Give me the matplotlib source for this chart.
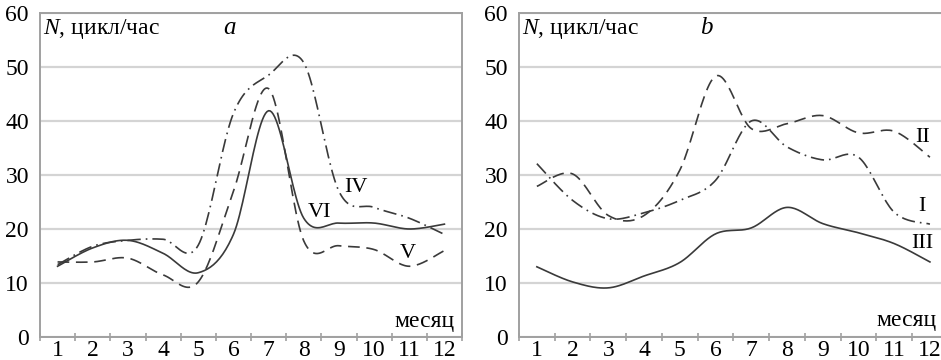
import numpy as np
import matplotlib.pyplot as plt
from matplotlib.ticker import MultipleLocator

plt.rcParams['font.family'] = ['Liberation Serif', 'DejaVu Serif']
plt.rcParams['mathtext.fontset'] = 'custom'
plt.rcParams['mathtext.rm'] = 'Liberation Serif'
plt.rcParams['mathtext.it'] = 'Liberation Serif:italic'

months = np.arange(1, 13)
month_labels = [str(m) for m in months]

# panel a
curve_iv = [13.4, 16.8, 17.9, 18.1, 17.0, 41.4, 48.5, 50.8, 27.0, 24.0, 22.0, 19.0]
curve_v = [13.9, 13.9, 14.6, 11.5, 10.2, 27.0, 46.0, 17.8, 16.9, 16.2, 13.1, 16.0]
curve_vi = [13.1, 16.5, 17.9, 15.5, 11.9, 19.0, 41.9, 22.0, 21.1, 21.1, 20.0, 20.9]

# panel b
curve_i = [32.1, 25.3, 21.9, 23.0, 25.3, 29.0, 40.0, 35.2, 32.8, 33.3, 23.1, 20.9]
curve_ii = [27.9, 30.2, 22.5, 22.5, 30.9, 48.3, 38.6, 39.5, 41.0, 37.8, 38.1, 33.3]
curve_iii = [13.0, 10.2, 9.1, 11.3, 13.8, 19.1, 20.2, 24.0, 21.0, 19.3, 17.3, 13.9]


def smooth(x, y, n=24):
    # excel-like smoothed line (catmull-rom through the points)
    x = np.asarray(x, float)
    y = np.asarray(y, float)
    px = np.concatenate([[x[0]], x, [x[-1]]])
    py = np.concatenate([[y[0]], y, [y[-1]]])
    xs, ys = [], []
    t = np.linspace(0, 1, n)
    for i in range(1, len(px) - 2):
        for p, out in ((px, xs), (py, ys)):
            p0, p1, p2, p3 = p[i - 1], p[i], p[i + 1], p[i + 2]
            c1 = p1 + (p2 - p0) / 6
            c2 = p2 - (p3 - p1) / 6
            out.extend((1 - t)**3 * p1 + 3 * (1 - t)**2 * t * c1
                       + 3 * (1 - t) * t**2 * c2 + t**3 * p2)
    return np.array(xs), np.array(ys)


dash = (0, (7, 4))
dashdot = (0, (8, 3, 1, 3))
solid = '-'

fig = plt.figure(figsize=(9.41, 3.6), dpi=100)
ax_a = fig.add_axes([40 / 941, 23 / 360, 422 / 941, 324 / 360])
ax_b = fig.add_axes([519 / 941, 23 / 360, 422 / 941, 324 / 360])

grid_c = '#d4d4d4'
spine_c = '#a0a0a0'
fs = 17

for ax, xmax in ((ax_a, 12.5), (ax_b, 12.31)):
    ax.set_xlim(0.5, xmax)
    ax.set_ylim(0, 60)
    ax.set_yticks(range(0, 61, 10))
    ax.set_xticks(months)
    ax.set_xticklabels(month_labels)
    ax.xaxis.set_minor_locator(MultipleLocator(1, offset=0.5))
    ax.tick_params(axis='both', which='major', length=0, labelsize=fs)
    ax.tick_params(axis='x', which='major', pad=2)
    ax.tick_params(axis='y', which='major', pad=8)
    ax.tick_params(axis='x', which='minor', direction='inout', length=6,
                   width=1.2, color=spine_c)
    ax.grid(axis='y', color=grid_c, lw=1.6)
    ax.set_axisbelow(True)
    for s in ax.spines.values():
        s.set_color(spine_c)
        s.set_linewidth(1.4)
    ax.text(0.58, 57.0, '$N$, цикл/час', fontsize=fs, va='center', ha='left')

ax_b.spines['right'].set_visible(False)

line_c = '#3a3a3a'
for y, ls in ((curve_iv, dashdot), (curve_v, dash), (curve_vi, solid)):
    sx, sy = smooth(months, y)
    ax_a.plot(sx, sy, color=line_c, lw=1.2, ls=ls)
for y, ls in ((curve_i, dashdot), (curve_ii, dash), (curve_iii, solid)):
    sx, sy = smooth(months, y)
    ax_b.plot(sx, sy, color=line_c, lw=1.2, ls=ls)

ax_a.text(5.89, 57.3, 'a', fontsize=fs + 1, style='italic', ha='center', va='center')
ax_b.text(5.75, 57.3, 'b', fontsize=fs + 1, style='italic', ha='center', va='center')

ax_a.text(12.28, 2.8, 'месяц', fontsize=fs, ha='right', va='center')
ax_b.text(12.2, 3.0, 'месяц', fontsize=fs, ha='right', va='center')

ax_a.text(9.49, 27.6, 'IV', fontsize=fs - 1, ha='center', va='center')
ax_a.text(8.44, 23.1, 'VI', fontsize=fs - 1, ha='center', va='center')
ax_a.text(10.97, 15.4, 'V', fontsize=fs - 1, ha='center', va='center')

ax_b.text(11.79, 37.0, 'II', fontsize=fs - 1, ha='center', va='center')
ax_b.text(11.79, 24.1, 'I', fontsize=fs - 1, ha='center', va='center')
ax_b.text(11.79, 17.4, 'III', fontsize=fs - 1, ha='center', va='center')

fig.savefig('out.png', dpi=100)
